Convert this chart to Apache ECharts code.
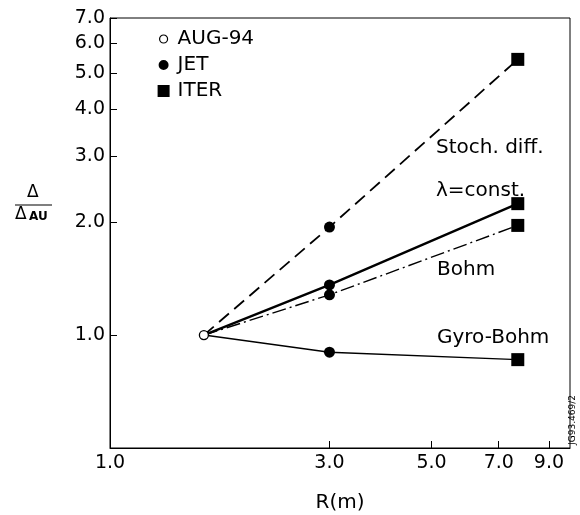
<!DOCTYPE html>
<html><head><meta charset="utf-8">
<script src="https://cdn.jsdelivr.net/npm/echarts@6/dist/echarts.min.js"></script>
<style>html,body{margin:0;padding:0;background:#fff}#c{width:580px;height:515px}</style>
</head><body><div id="c"></div>
<script>
// Device major radii R (m): AUG-94, JET, ITER
const devices = ['AUG-94', 'JET', 'ITER'];
const radii = [1.6, 3.0, 7.7];
// Δ/Δ_AU for each transport scaling at each device
const stochDiff = [1.0, 1.94, 5.43];
const lambdaConst = [1.0, 1.36, 2.24];
const bohm = [1.0, 1.28, 1.96];
const gyroBohm = [1.0, 0.90, 0.86];
const scalingNames = ['Stoch. diff.', 'λ=const.', 'Bohm', 'Gyro-Bohm'];
const xTicks = [1, 3, 5, 7, 9];
const yTicks = [1, 2, 3, 4, 5, 6, 7];

const scalings = [stochDiff, lambdaConst, bohm, gyroBohm];
const lineStyles = [
  {width: 1.8, type: [13, 7]},
  {width: 2.4, type: 'solid'},
  {width: 1.4, type: [14, 4, 2, 4]},
  {width: 1.4, type: 'solid'}
];
const font = '"DejaVu Sans", Verdana, sans-serif';
const chart = echarts.init(document.getElementById('c'), null, {renderer: 'canvas'});

const series = [];
scalings.forEach((s, i) => {
  series.push({
    name: scalingNames[i], type: 'line', symbol: 'none', z: 2,
    data: radii.map((r, j) => [r, s[j]]),
    lineStyle: Object.assign({color: '#000'}, lineStyles[i]),
    silent: true
  });
});
const symbolDefs = [
  {symbol: 'circle', size: 9, itemStyle: {color: '#fff', borderColor: '#000', borderWidth: 1.3, opacity: 1}},
  {symbol: 'circle', size: 11, itemStyle: {color: '#000', opacity: 1}},
  {symbol: 'rect', size: 13, itemStyle: {color: '#000', opacity: 1}}
];
const legendIcons = [
  'path://M0,0L0.01,0M12,12L12.01,12M2,6A4,4 0 1,0 10,6A4,4 0 1,0 2,6Z',
  'path://M0,0L0.01,0M12,12L12.01,12M1,6A5,5 0 1,0 11,6A5,5 0 1,0 1,6Z',
  'rect'
];
devices.forEach((d, j) => {
  const pts = j === 0 ? [[radii[0], scalings[0][0]]] : scalings.map(s => [radii[j], s[j]]);
  series.push({
    name: d, type: 'scatter', z: 5, data: pts,
    symbol: symbolDefs[j].symbol, symbolSize: symbolDefs[j].size,
    itemStyle: symbolDefs[j].itemStyle
  });
});

const labelText = (t, x, y) => ({type: 'text', left: x, top: y,
  style: {text: t, font: '20px ' + font, fill: '#000'}});

chart.setOption({
  animation: false,
  backgroundColor: '#fff',
  grid: {left: 110, top: 18, right: 10, bottom: 67, show: true, borderColor: '#000', borderWidth: 1,
    containLabel: false, outerBoundsMode: 'none'},
  legend: {
    orient: 'vertical', left: 152, top: 24, itemGap: 6, itemWidth: 12, itemHeight: 12,
    textStyle: {fontSize: 20, fontFamily: font, color: '#000', padding: [0, 0, 0, 3]},
    data: devices.map((d, j) => ({name: d, icon: legendIcons[j],
      itemStyle: j === 0 ? {color: '#fff', borderColor: '#000', borderWidth: 1.2} : {color: '#000', borderWidth: 0}}))
  },
  xAxis: {
    type: 'log', logBase: 10, min: 1, max: 10,
    name: 'R(m)', nameLocation: 'middle', nameGap: 45,
    nameTextStyle: {fontSize: 20, fontFamily: font, color: '#000'},
    axisLine: {lineStyle: {color: '#000', width: 1}},
    axisTick: {inside: true, length: 7, lineStyle: {color: '#000'}, customValues: xTicks},
    axisLabel: {customValues: xTicks, formatter: v => Number(v).toFixed(1),
      fontSize: 19, fontFamily: font, color: '#000', margin: 6},
    splitLine: {show: false}, minorTick: {show: false}
  },
  yAxis: {
    type: 'log', logBase: 10, min: 0.5, max: 7,
    axisLine: {lineStyle: {color: '#000', width: 1}},
    axisTick: {inside: true, length: 7, lineStyle: {color: '#000'}, customValues: yTicks},
    axisLabel: {customValues: yTicks, formatter: v => Number(v).toFixed(1),
      fontSize: 19, fontFamily: font, color: '#000', margin: 5},
    splitLine: {show: false}
  },
  graphic: [
    labelText(scalingNames[0], 436, 138),
    labelText(scalingNames[1], 436, 181),
    labelText(scalingNames[2], 437, 260),
    labelText(scalingNames[3], 437, 328),
    {type: 'text', left: 27, top: 184, style: {text: 'Δ', font: '17px ' + font, fill: '#000'}},
    {type: 'line', shape: {x1: 15, y1: 205, x2: 52, y2: 205}, style: {stroke: '#000', lineWidth: 1.2}},
    {type: 'text', left: 15, top: 206, style: {text: 'Δ', font: '17px ' + font, fill: '#000'}},
    {type: 'text', left: 29, top: 211, style: {text: 'AU', font: 'bold 12px ' + font, fill: '#000'}},
    {type: 'text', left: 568, top: 395, rotation: Math.PI / 2,
      style: {text: 'JG93.469/2', font: '9px ' + font, fill: '#000'}}
  ],
  series: series
});
</script></body></html>
